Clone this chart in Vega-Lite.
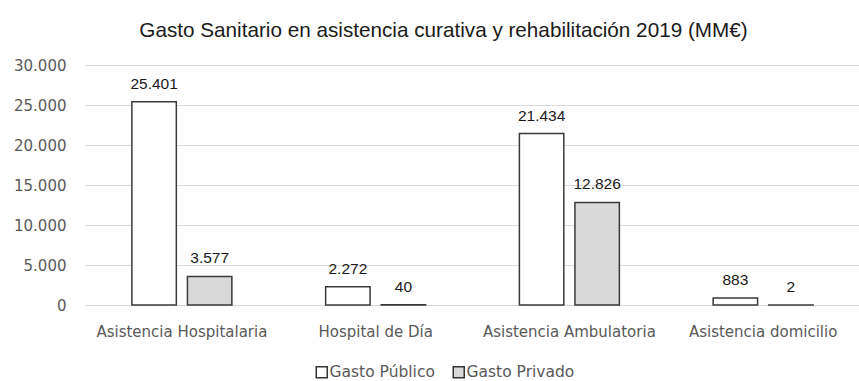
{
  "$schema": "https://vega.github.io/schema/vega-lite/v6.json",
  "width": 775,
  "height": 240,
  "autosize": {"type": "none"},
  "padding": {"left": 85, "top": 65, "right": 0, "bottom": 76},
  "background": "white",
  "config": {
    "locale": {"number": {"decimal": ",", "thousands": ".", "grouping": [3], "currency": ["", " €"]}},
    "view": {"stroke": null},
    "font": "Liberation Sans"
  },
  "title": {
    "text": "Gasto Sanitario en asistencia curativa y rehabilitación 2019 (MM€)",
    "font": "Liberation Sans",
    "fontSize": 20.7,
    "fontWeight": "normal",
    "color": "#1a1a1a",
    "anchor": "middle",
    "dx": -29,
    "offset": 16
  },
  "data": {
    "values": [
      {"categoria": "Asistencia Hospitalaria", "tipo": "Gasto Público", "valor": 25401},
      {"categoria": "Asistencia Hospitalaria", "tipo": "Gasto Privado", "valor": 3577},
      {"categoria": "Hospital de Día", "tipo": "Gasto Público", "valor": 2272},
      {"categoria": "Hospital de Día", "tipo": "Gasto Privado", "valor": 40},
      {"categoria": "Asistencia Ambulatoria", "tipo": "Gasto Público", "valor": 21434},
      {"categoria": "Asistencia Ambulatoria", "tipo": "Gasto Privado", "valor": 12826},
      {"categoria": "Asistencia domicilio", "tipo": "Gasto Público", "valor": 883},
      {"categoria": "Asistencia domicilio", "tipo": "Gasto Privado", "valor": 2}
    ]
  },
  "encoding": {
    "x": {
      "field": "categoria",
      "type": "nominal",
      "sort": ["Asistencia Hospitalaria", "Hospital de Día", "Asistencia Ambulatoria", "Asistencia domicilio"],
      "scale": {"paddingInner": 0.484, "paddingOuter": 0.242},
      "axis": {
        "title": null,
        "labelAngle": 0,
        "domain": false,
        "ticks": false,
        "grid": false,
        "labelPadding": 19,
        "labelFont": "DejaVu Sans",
        "labelFontSize": 15,
        "labelColor": "#595959"
      }
    },
    "xOffset": {
      "field": "tipo",
      "type": "nominal",
      "sort": ["Gasto Público", "Gasto Privado"],
      "scale": {"paddingInner": 0.2}
    },
    "y": {
      "field": "valor",
      "type": "quantitative",
      "scale": {"domain": [0, 30000]},
      "axis": {
        "title": null,
        "values": [0, 5000, 10000, 15000, 20000, 25000, 30000],
        "format": ",d",
        "domain": false,
        "ticks": false,
        "labelPadding": 19,
        "gridColor": "#d9d9d9",
        "gridWidth": 1.2,
        "labelFont": "DejaVu Sans",
        "labelColor": "#595959",
        "labelFontSize": 15
      }
    }
  },
  "layer": [
    {
      "mark": {"type": "bar", "stroke": "#3a3a3a", "strokeWidth": 1.5},
      "encoding": {
        "color": {
          "field": "tipo",
          "type": "nominal",
          "scale": {"domain": ["Gasto Público", "Gasto Privado"], "range": ["#ffffff", "#d9d9d9"]},
          "legend": {
            "title": null,
            "orient": "none",
            "legendX": 229,
            "legendY": 299,
            "direction": "horizontal",
            "symbolType": "square",
            "symbolSize": 121,
            "symbolStrokeColor": "#333333",
            "symbolStrokeWidth": 1.5,
            "labelFont": "DejaVu Sans",
            "labelFontSize": 15.5,
            "labelColor": "#595959",
            "labelOffset": 0,
            "columnPadding": 15
          }
        }
      }
    },
    {
      "mark": {"type": "text", "baseline": "bottom", "dy": -10, "fontSize": 15.5, "color": "#1a1a1a", "font": "Liberation Sans"},
      "encoding": {
        "text": {"field": "valor", "type": "quantitative", "format": ",d"}
      }
    }
  ]
}
